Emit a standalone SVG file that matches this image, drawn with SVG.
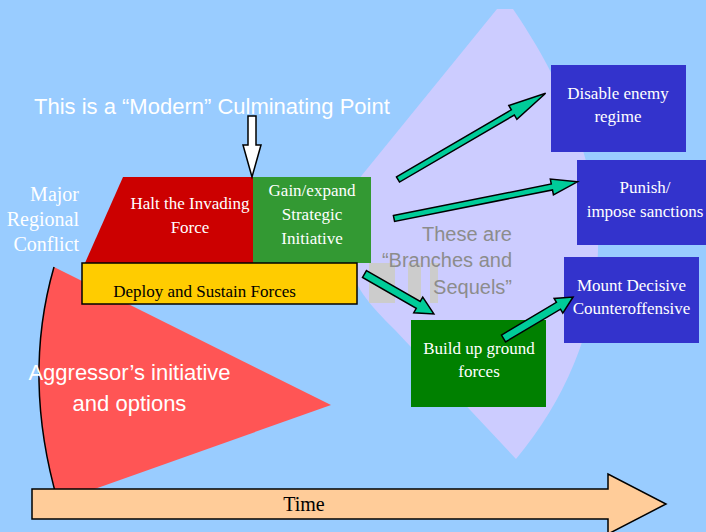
<svg xmlns="http://www.w3.org/2000/svg" width="706" height="532" viewBox="0 0 706 532">
<style>
.sans{font-family:"Liberation Sans",Arial,sans-serif;}
.serif{font-family:"Liberation Serif","Times New Roman",serif;}
.wt{fill:#ffffff;}
.box{font-size:17px;text-anchor:middle;}
.teal{fill:#00cc99;stroke:#000;stroke-width:1.5;stroke-linejoin:miter;}
.blue{fill:#3333cc;}
</style>
<rect x="0" y="0" width="706" height="532" fill="#99ccff"/>
<path d="M497,9 L513,9 C555,70 600,160 598,250 C596,330 565,400 516,459 L395,330 C370,305 350,285 348,250 C346,220 350,195 358,180 Z" fill="#ccccff"/>
<g fill="#cccccc">
<rect x="369" y="263" width="26" height="40"/>
<rect x="408" y="263" width="13" height="40"/>
<rect x="430" y="263" width="8" height="40"/>
</g>
<g id="sequels-label" class="sans" font-size="20" fill="#8c8c8c" text-anchor="end">
<text x="512" y="241">These are</text>
<text x="512" y="267">“Branches and</text>
<text x="512" y="294">Sequels”</text>
</g>
<g id="aggressor">
<path d="M54,267 L331,405 L58,502 Q22,378 54,267 Z" fill="#ff5555"/>
<path d="M54,267 Q22,378 58,502" fill="none" stroke="#000" stroke-width="1.5"/>
<text class="sans wt" font-size="22" text-anchor="middle"><tspan x="129.5" y="380">Aggressor’s initiative</tspan><tspan x="129.5" y="411">and options</tspan></text>
</g>
<g id="title">
<text class="sans wt" x="34" y="114" font-size="22">This is a “Modern” Culminating Point</text>
</g>
<g id="major-conflict">
<text class="serif wt" font-size="20" text-anchor="end"><tspan x="79" y="201">Major</tspan><tspan x="79" y="226">Regional</tspan><tspan x="79" y="251">Conflict</tspan></text>
</g>
<g id="halt">
<polygon points="123,177 253,177 253,263 85,263" fill="#cc0000"/>
<text class="serif wt box"><tspan x="190" y="209">Halt the Invading</tspan><tspan x="190" y="233">Force</tspan></text>
</g>
<g id="gain">
<rect x="253" y="177" width="118" height="86" fill="#339933"/>
<text class="serif wt box"><tspan x="312" y="196">Gain/expand</tspan><tspan x="312" y="220">Strategic</tspan><tspan x="312" y="244">Initiative</tspan></text>
</g>
<g id="deploy">
<rect x="82" y="263" width="275" height="41" fill="#ffcc00" stroke="#000" stroke-width="1.5"/>
<text class="serif box" x="204.5" y="297" fill="#000">Deploy and Sustain Forces</text>
</g>
<g id="disable">
<rect class="blue" x="551" y="65" width="135" height="87"/>
<text class="serif wt box"><tspan x="618" y="99">Disable enemy</tspan><tspan x="618" y="122">regime</tspan></text>
</g>
<g id="punish">
<rect class="blue" x="577" y="160" width="133" height="85"/>
<text class="serif wt box"><tspan x="645" y="193">Punish/</tspan><tspan x="645" y="217">impose sanctions</tspan></text>
</g>
<g id="mount">
<rect class="blue" x="564" y="257" width="135" height="86"/>
<text class="serif wt box"><tspan x="631.5" y="291">Mount Decisive</tspan><tspan x="631.5" y="314">Counteroffensive</tspan></text>
</g>
<g id="buildup">
<rect x="411" y="320" width="135" height="87" fill="#008000"/>
<text class="serif wt box"><tspan x="479" y="354">Build up ground</tspan><tspan x="479" y="377">forces</tspan></text>
</g>
<g id="connectors">
<path d="M248,116 L256,116 L256,145 L261,145 L252,177 L243,145 L248,145 Z" fill="#ffffff" stroke="#000" stroke-width="1.5"/>
<path class="teal" transform="translate(398,179.5) rotate(-30.3)" d="M0,-3 L133,-3 L133,-8 L171,0 L133,8 L133,3 L0,3 Z"/>
<path class="teal" transform="translate(394,218.5) rotate(-11.3)" d="M0,-3 L161,-3 L161,-8 L187,0 L161,8 L161,3 L0,3 Z"/>
<path class="teal" transform="translate(364.5,274) rotate(29.9)" d="M0,-4 L62,-4 L62,-9 L80,0 L62,9 L62,4 L0,4 Z"/>
<path class="teal" transform="translate(503.5,338.5) rotate(-30.8)" d="M0,-4 L64,-4 L64,-8.5 L81,0 L64,8.5 L64,4 L0,4 Z"/>
</g>
<g id="time">
<path d="M32,489 L608,489 L608,474 L666,504 L608,534 L608,519 L32,519 Z" fill="#ffcc99" stroke="#000" stroke-width="1.5"/>
<text class="serif" x="304" y="511" font-size="20" text-anchor="middle" fill="#000">Time</text>
</g>
</svg>
